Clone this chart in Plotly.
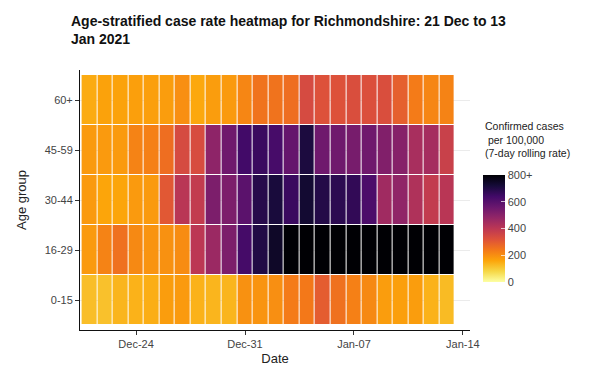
import pandas as pd
import plotly.graph_objects as go

dates = pd.date_range("2020-12-21", "2021-01-13", freq="D")
age_groups = ["0-15", "16-29", "30-44", "45-59", "60+"]

rate_0_15 = [120, 115, 135, 140, 145, 175, 180, 140, 135, 135, 195, 190,
             200, 235, 240, 295, 255, 225, 210, 175, 170, 175, 140, 125]
rate_16_29 = [180, 220, 255, 210, 190, 195, 205, 400, 465, 525, 635, 700,
              745, 860, 900, 950, 980, 1000, 1020, 990, 960, 930, 900, 870]
rate_30_44 = [180, 160, 160, 180, 180, 305, 405, 385, 525, 525, 590, 690,
              715, 655, 730, 695, 680, 670, 620, 455, 485, 425, 385, 405]
rate_45_59 = [180, 180, 180, 220, 225, 260, 340, 335, 490, 550, 640, 655,
              630, 570, 710, 550, 550, 535, 550, 515, 505, 440, 445, 370]
rate_60_plus = [150, 165, 165, 170, 170, 175, 200, 155, 175, 180, 215, 250,
                250, 260, 340, 320, 320, 330, 325, 330, 290, 235, 215, 220]

z = [rate_0_15, rate_16_29, rate_30_44, rate_45_59, rate_60_plus]

inferno_r = [
    [0.0, "#fcffa4"], [0.1, "#f6d746"], [0.2, "#fca50a"], [0.3, "#f37819"],
    [0.4, "#dd513a"], [0.5, "#bc3754"], [0.6, "#932667"], [0.7, "#6a176e"],
    [0.8, "#420a68"], [0.9, "#160b39"], [1.0, "#000004"],
]

font_family = "Liberation Sans, Arial, sans-serif"

# page has an 8px body margin; figure is sized to fit inside the window
W, H = 581, 364
ML, MR, MT, MB = 72, 119, 62, 42
plot_h = H - MT - MB

fig = go.Figure(
    go.Heatmap(
        x=dates,
        y=age_groups,
        z=z,
        zmin=0,
        zmax=800,
        colorscale=inferno_r,
        xgap=1,
        ygap=1,
        colorbar=dict(
            tickvals=[0, 200, 400, 600, 800],
            ticktext=["0", "200", "400", "600", "800+"],
            tickfont=dict(size=11, color="#444"),
            ticks="inside",
            tickcolor="rgba(255,255,255,0.7)",
            ticklen=4,
            thickness=22,
            lenmode="pixels",
            len=107,
            x=1.033,
            xanchor="left",
            y=(H - MB - 274) / plot_h,
            yanchor="bottom",
            ypad=0,
            xpad=0,
            outlinewidth=0,
        ),
    )
)

fig.add_annotation(
    text="Confirmed cases<br> per 100,000<br>(7-day rolling rate)",
    xref="paper", yref="paper",
    x=1.033, xanchor="left",
    y=(H - MB - 110) / plot_h, yanchor="top",
    align="left",
    showarrow=False,
    font=dict(size=10.5, color="#222"),
)

fig.update_layout(
    width=W,
    height=H,
    margin=dict(l=ML, r=MR, t=MT, b=MB, autoexpand=False),
    paper_bgcolor="white",
    plot_bgcolor="white",
    font=dict(family=font_family, color="#222"),
    title=dict(
        text="<b>Age-stratified case rate heatmap for Richmondshire: 21 Dec to 13<br>Jan 2021</b>",
        x=63 / W,
        xanchor="left",
        xref="container",
        y=1 - 18 / H,
        yref="container",
        yanchor="top",
        font=dict(size=14, color="#111"),
    ),
)

fig.update_xaxes(
    range=["2020-12-20 09:30", "2021-01-14 11:00"],
    tickvals=["2020-12-24", "2020-12-31", "2021-01-07", "2021-01-14"],
    ticktext=["Dec-24", "Dec-31", "Jan-07", "Jan-14"],
    tickfont=dict(size=11, color="#444"),
    ticks="outside",
    ticklen=4,
    tickcolor="#333",
    showline=True,
    linecolor="#111",
    linewidth=1,
    showgrid=False,
    zeroline=False,
    title=dict(text="Date", font=dict(size=13, color="#222"), standoff=4),
)

fig.update_yaxes(
    type="category",
    categoryorder="array",
    categoryarray=age_groups,
    range=[-0.6, 4.6],
    tickfont=dict(size=11, color="#444"),
    ticks="outside",
    ticklen=4,
    tickcolor="#333",
    showline=True,
    linecolor="#111",
    linewidth=1,
    showgrid=True,
    gridcolor="#ebebeb",
    zeroline=False,
    title=dict(text="Age group", font=dict(size=13, color="#222"), standoff=15),
)

fig.write_html("out.html")
